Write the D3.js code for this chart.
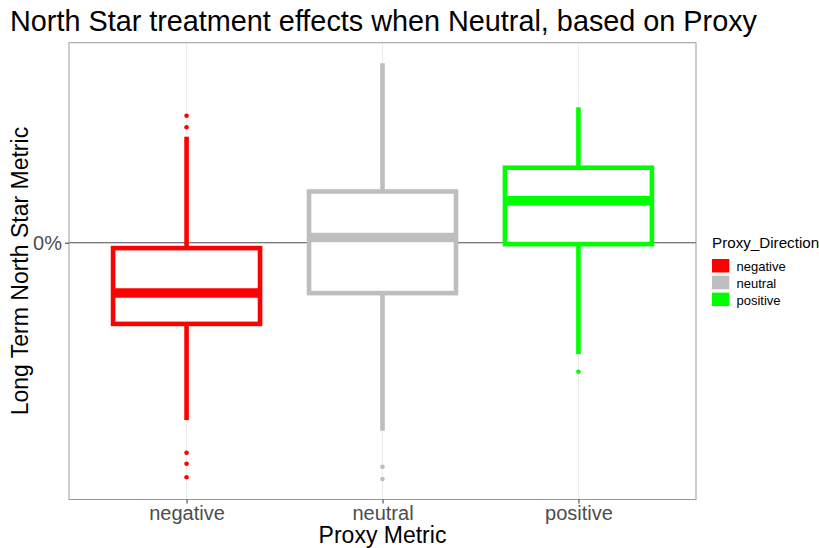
<!DOCTYPE html>
<html>
<head>
<meta charset="utf-8">
<script src="https://cdn.jsdelivr.net/npm/d3@7"></script>
<style>
  body { margin: 0; background: #fff; }
  svg { font-family: "Liberation Sans", Arial, sans-serif; }
</style>
</head>
<body>
<svg width="819" height="548"></svg>
<script>
// data (long term effect, as a fraction)
var categories = ['negative', 'neutral', 'positive'];
var colors = ['#ff0000', '#bebebe', '#00ff00'];
var whiskerHigh = [0.053, 0.0897, 0.0677];
var q3 = [-0.0027, 0.0256, 0.0375];
var median = [-0.0252, 0.0026, 0.021];
var q1 = [-0.0406, -0.0252, -0.0007];
var whiskerLow = [-0.0887, -0.094, -0.0557];
var outliers = [
  [0.0635, 0.0577, -0.105, -0.1105, -0.1173],
  [-0.112, -0.1182],
  [-0.0645]
];
var yTicks = [0];

var svg = d3.select('svg');
var margin = {top: 42.7, left: 69, right: 123, bottom: 48.5};
var width = 819, height = 548;
var innerWidth = width - margin.left - margin.right;
var innerHeight = height - margin.top - margin.bottom;

var xScale = d3.scalePoint().domain(categories).range([0, innerWidth]).padding(0.6);
var yScale = d3.scaleLinear().domain([-0.1284, 0.1]).range([innerHeight, 0]);
var step = xScale.step();
var boxW = step * 0.75;

var g = svg.append('g').attr('transform', 'translate(' + margin.left + ',' + margin.top + ')');

// vertical grid
g.selectAll('.grid').data(categories).enter().append('line')
  .attr('x1', d => xScale(d)).attr('x2', d => xScale(d))
  .attr('y1', 0).attr('y2', innerHeight)
  .attr('stroke', '#ebebeb').attr('stroke-width', 1);

// zero line
g.append('line')
  .attr('x1', 0).attr('x2', innerWidth)
  .attr('y1', yScale(0)).attr('y2', yScale(0))
  .attr('stroke', '#4d4d4d').attr('stroke-width', 1.1);

var boxes = categories.map(function (c, i) {
  return {cat: c, color: colors[i], hi: whiskerHigh[i], q3: q3[i], med: median[i], q1: q1[i], lo: whiskerLow[i], out: outliers[i]};
});

var bg = g.selectAll('.box').data(boxes).enter().append('g');

bg.append('line')
  .attr('x1', d => xScale(d.cat)).attr('x2', d => xScale(d.cat))
  .attr('y1', d => yScale(d.hi)).attr('y2', d => yScale(d.q3))
  .attr('stroke', d => d.color).attr('stroke-width', 4.6);
bg.append('line')
  .attr('x1', d => xScale(d.cat)).attr('x2', d => xScale(d.cat))
  .attr('y1', d => yScale(d.q1)).attr('y2', d => yScale(d.lo))
  .attr('stroke', d => d.color).attr('stroke-width', 4.6);
bg.append('rect')
  .attr('x', d => xScale(d.cat) - boxW / 2)
  .attr('y', d => yScale(d.q3))
  .attr('width', boxW)
  .attr('height', d => yScale(d.q1) - yScale(d.q3))
  .attr('fill', 'white')
  .attr('stroke', d => d.color).attr('stroke-width', 4.6);
bg.append('line')
  .attr('x1', d => xScale(d.cat) - boxW / 2).attr('x2', d => xScale(d.cat) + boxW / 2)
  .attr('y1', d => yScale(d.med)).attr('y2', d => yScale(d.med))
  .attr('stroke', d => d.color).attr('stroke-width', 9.5);
bg.each(function (d) {
  d3.select(this).selectAll('circle').data(d.out).enter().append('circle')
    .attr('cx', xScale(d.cat)).attr('cy', v => yScale(v))
    .attr('r', 2.3).attr('fill', d.color);
});

// panel border
g.append('rect')
  .attr('x', 0).attr('y', 0).attr('width', innerWidth).attr('height', innerHeight)
  .attr('fill', 'none').attr('stroke', '#999').attr('stroke-width', 1);

// axes
var xAxis = d3.axisBottom(xScale).tickSize(4);
var yAxis = d3.axisLeft(yScale).tickValues(yTicks).tickFormat(d3.format('.0%')).tickSize(4).tickPadding(3);
var xa = g.append('g').attr('transform', 'translate(0,' + innerHeight + ')').call(xAxis);
var ya = g.append('g').call(yAxis);
[xa, ya].forEach(function (a) {
  a.select('.domain').remove();
  a.selectAll('line').attr('stroke', '#333');
  a.selectAll('text').attr('fill', '#4d4d4d').style('font-size', '20px').style('font-family', 'Liberation Sans, Arial, sans-serif');
});
xa.selectAll('text').attr('y', 20).attr('dy', 0);
ya.selectAll('text').attr('dy', '0.35em');

svg.append('text')
  .attr('x', margin.left + innerWidth / 2).attr('y', 543)
  .attr('text-anchor', 'middle').style('font-size', '23px')
  .text('Proxy Metric');

svg.append('text')
  .attr('transform', 'rotate(-90)')
  .attr('x', -(margin.top + innerHeight / 2)).attr('y', 27.5)
  .attr('text-anchor', 'middle').style('font-size', '23px')
  .text('Long Term North Star Metric');

svg.append('text')
  .attr('x', 10).attr('y', 31)
  .style('font-size', '28.8px')
  .text('North Star treatment effects when Neutral, based on Proxy');

// legend
var lg = svg.append('g').attr('transform', 'translate(712,0)');
lg.append('text').attr('x', 0).attr('y', 248).style('font-size', '15.2px').text('Proxy_Direction');
lg.selectAll('rect').data(categories).enter().append('rect')
  .attr('x', 0).attr('y', (d, i) => 259 + i * 16.8)
  .attr('width', 17.3).attr('height', 13.5)
  .attr('fill', (d, i) => colors[i]);
lg.selectAll('.lab').data(categories).enter().append('text')
  .attr('x', 24.5).attr('y', (d, i) => 271 + i * 16.8)
  .style('font-size', '13px')
  .text(d => d);
</script>
</body>
</html>
